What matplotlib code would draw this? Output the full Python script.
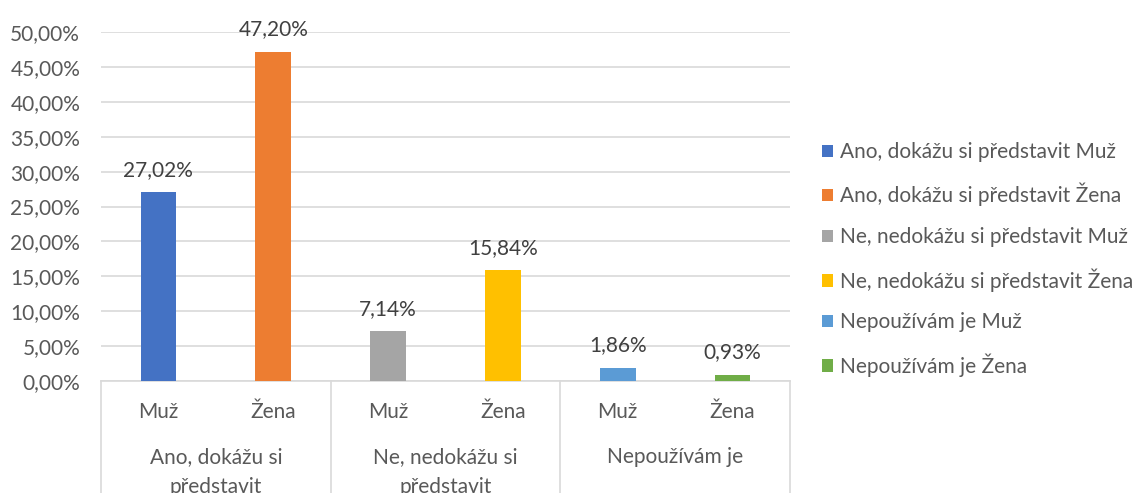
import matplotlib
matplotlib.use("Agg")
import matplotlib.pyplot as plt
from matplotlib.patches import Patch

groups = ["Ano, dokážu si\npředstavit", "Ne, nedokážu si\npředstavit", "Nepoužívám je"]
sub_labels = ["Muž", "Žena", "Muž", "Žena", "Muž", "Žena"]
series_names = ["Ano, dokážu si představit Muž", "Ano, dokážu si představit Žena",
                "Ne, nedokážu si představit Muž", "Ne, nedokážu si představit Žena",
                "Nepoužívám je Muž", "Nepoužívám je Žena"]
values = [27.02, 47.20, 7.14, 15.84, 1.86, 0.93]
colors = ["#4472C4", "#ED7D31", "#A5A5A5", "#FFC000", "#5B9BD5", "#70AD47"]
yticks = [0, 5, 10, 15, 20, 25, 30, 35, 40, 45, 50]

plt.rcParams['font.family'] = ['Lato', 'DejaVu Sans']
TXT = "#595959"
FS = 15

W, H = 1147, 493
fig = plt.figure(figsize=(W / 100, H / 100), dpi=100)
ax = fig.add_axes([101 / W, (H - 381) / H, (790 - 101) / W, (381 - 32) / H])

xs = list(range(len(values)))
for x, v, c in zip(xs, values, colors):
    ax.bar(x, v, width=0.31, color=c, zorder=3)
    ax.annotate(f"{v:.2f}%".replace(".", ","), (x, v), xytext=(0, 9),
                textcoords="offset points", ha="center", va="bottom",
                fontsize=FS, color="#404040")

ax.set_xlim(-0.5, 5.5)
ax.set_ylim(0, 50)
ax.set_yticks(yticks)
ax.set_yticklabels([f"{t:.2f}%".replace(".", ",") for t in yticks], fontsize=FS, color=TXT)
ax.tick_params(axis="y", length=0, pad=15)
ax.set_xticks([])
ax.yaxis.grid(True, color="#D9D9D9", linewidth=1.2, zorder=0)
for s in ["top", "right", "left"]:
    ax.spines[s].set_visible(False)
ax.spines["bottom"].set_color("#D9D9D9")
ax.spines["bottom"].set_linewidth(1.2)

# category axis labels
for x, lab in zip(xs, sub_labels):
    ax.annotate(lab, (x, 0), xycoords=("data", "axes fraction"), xytext=(0, -31 * 0.72),
                textcoords="offset points", ha="center", va="center",
                fontsize=FS, color=TXT, annotation_clip=False)
for g, lab in enumerate(groups):
    ax.annotate(lab, (2 * g + 0.5, 0), xycoords=("data", "axes fraction"),
                xytext=(0, -66 * 0.72), textcoords="offset points", ha="center", va="top",
                fontsize=FS, color=TXT, linespacing=1.6, annotation_clip=False)

# group separators
for xb in [-0.5, 1.5, 3.5, 5.5]:
    ax.plot([xb, xb], [0, -1], transform=ax.get_xaxis_transform(), color="#D9D9D9",
            linewidth=1.2, clip_on=False)

handles = [Patch(facecolor=c, edgecolor="none") for c in colors]
fig.legend(handles, series_names, loc="center left", bbox_to_anchor=(822 / W, 1 - 259.5 / H),
           frameon=False, fontsize=FS, labelcolor=TXT, handlelength=0.55, handleheight=0.55,
           handletextpad=0.3, labelspacing=1.0, borderaxespad=0, borderpad=0)

fig.savefig("out.png", dpi=100)
